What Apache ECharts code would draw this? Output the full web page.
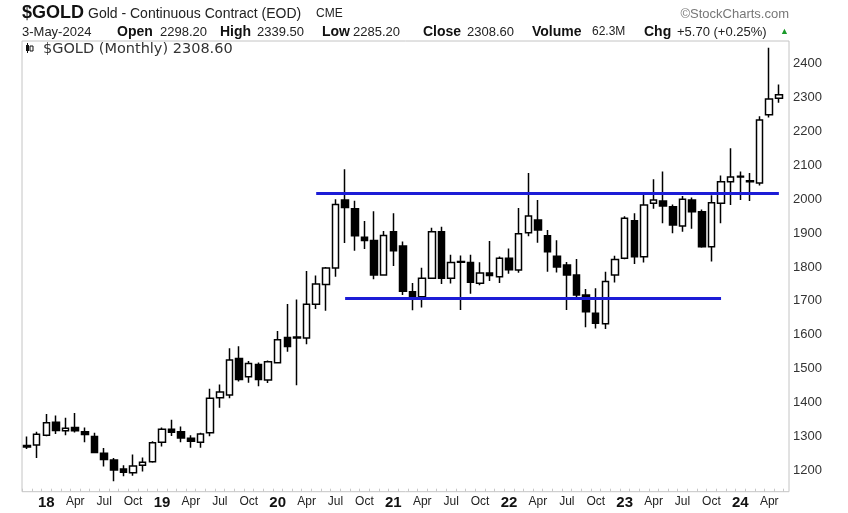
<!DOCTYPE html>
<html>
<head>
<meta charset="utf-8">
<script src="https://cdn.jsdelivr.net/npm/echarts@6/dist/echarts.min.js"></script>
<style>
html,body{margin:0;padding:0;background:#fff;}
#chart{width:848px;height:513px;}
</style>
</head>
<body>
<div id="chart"></div>
<script>
const months = ['2017-11','2017-12',
'2018-01','2018-02','2018-03','2018-04','2018-05','2018-06','2018-07','2018-08','2018-09','2018-10','2018-11','2018-12',
'2019-01','2019-02','2019-03','2019-04','2019-05','2019-06','2019-07','2019-08','2019-09','2019-10','2019-11','2019-12',
'2020-01','2020-02','2020-03','2020-04','2020-05','2020-06','2020-07','2020-08','2020-09','2020-10','2020-11','2020-12',
'2021-01','2021-02','2021-03','2021-04','2021-05','2021-06','2021-07','2021-08','2021-09','2021-10','2021-11','2021-12',
'2022-01','2022-02','2022-03','2022-04','2022-05','2022-06','2022-07','2022-08','2022-09','2022-10','2022-11','2022-12',
'2023-01','2023-02','2023-03','2023-04','2023-05','2023-06','2023-07','2023-08','2023-09','2023-10','2023-11','2023-12',
'2024-01','2024-02','2024-03','2024-04','2024-05'];

const opens = [1268,1274,
1303,1341,1316,1326,1313,1299,1250,1230,1203,1192,1214,1225,
1282,1321,1313,1294,1282,1310,1414,1422,1530,1476,1512,1466,
1517,1592,1593,1590,1690,1748,1797,1998,1972,1888,1878,1776,
1904,1862,1727,1712,1767,1904,1767,1814,1813,1752,1782,1771,
1826,1791,1901,1939,1892,1832,1806,1776,1717,1663,1632,1776,
1826,1937,1830,1988,1995,1978,1921,1998,1963,1860,1988,2052,
2066,2055,2048,2250,2298.2];
const closes = [1273,1306,
1340,1317,1324,1316,1305,1252,1231,1200,1194,1212,1223,1281,
1321,1312,1295,1285,1307,1412,1431,1525,1468,1515,1468,1520,
1585,1565,1590,1690,1750,1797,1985,1976,1892,1878,1776,1893,
1848,1728,1712,1767,1904,1767,1813,1816,1755,1782,1775,1826,
1792,1898,1951,1909,1845,1800,1776,1717,1668,1634,1757,1822,
1944,1830,1983,1998,1980,1924,2000,1963,1860,1990,2052,2066,
2068,2052,2234,2296,2308.6];
const lows = [1262,1236,
1300,1307,1303,1311,1282,1250,1211,1167,1182,1183,1196,1222,
1270,1301,1282,1266,1266,1300,1384,1412,1462,1458,1448,1457,
1517,1550,1451,1572,1676,1671,1771,1871,1848,1853,1764,1775,
1803,1717,1672,1680,1766,1750,1751,1673,1721,1746,1759,1753,
1780,1783,1891,1872,1786,1784,1673,1709,1622,1618,1617,1754,
1823,1809,1813,1972,1929,1900,1904,1913,1857,1816,1929,1983,
1998,1995,2041,2242,2285.2];
const highs = [1299,1313,
1366,1361,1355,1369,1326,1310,1265,1236,1214,1246,1237,1285,
1326,1349,1329,1303,1310,1440,1453,1560,1566,1522,1518,1524,
1611,1691,1704,1788,1775,1800,2000,2089,1996,1936,1965,1906,
1959,1875,1753,1798,1916,1919,1836,1834,1836,1814,1877,1831,
1855,1974,2078,1998,1909,1879,1815,1824,1735,1737,1786,1833,
1950,1959,2014,2059,2082,1985,2010,2005,1970,2012,2070,2151,
2082,2078,2245,2448,2339.5];

const resistance = 2018;
const resistanceFrom = '2020-05', resistanceTo = '2024-05';
const support = 1707;
const supportFrom = '2020-08', supportTo = '2023-11';

const yTickLabels = [1200,1300,1400,1500,1600,1700,1800,1900,2000,2100,2200,2300,2400];
const monthNames = {'04':'Apr','07':'Jul','10':'Oct'};

const candleData = months.map((m, i) => [opens[i], closes[i], lows[i], highs[i]]);

const chart = echarts.init(document.getElementById('chart'), null, {renderer:'canvas'});

const FONT = 'Liberation Sans, Arial, sans-serif';
function txt(x, y, text, font, fill, align) {
  return {type:'text', x:x, y:y, silent:true,
    style:{text:text, font:font, fill:fill || '#111', align:align || 'left', verticalAlign:'middle'}};
}

const option = {
  animation:false,
  backgroundColor:'#fff',
  grid:[
    {left:22.2, top:30.05, width:761.5, height:473.9, show:false},
    {left:22.2, top:41, width:761.5, height:450.7, show:false},
    {left:22, top:41, width:767, height:450.7, show:true, borderColor:'#c4c4c4', borderWidth:1, backgroundColor:'transparent'}
  ],
  xAxis:[
    {type:'category', gridIndex:0, data:months, boundaryGap:true, show:false},
    {type:'category', gridIndex:1, data:months, boundaryGap:true,
      axisLine:{show:false},
      axisTick:{show:true, inside:true, length:3, interval:0, lineStyle:{color:'#c8c8c8'}},
      axisLabel:{
        interval:function(idx, val){ const mm = val.slice(5); return mm==='01' || monthNames[mm] !== undefined; },
        margin:4,
        formatter:function(val){
          const mm = val.slice(5);
          if (mm === '01') return '{y|' + val.slice(2,4) + '}';
          return '{m|' + monthNames[mm] + '}';
        },
        rich:{
          y:{fontFamily:FONT, fontWeight:'bold', fontSize:15, color:'#111'},
          m:{fontFamily:FONT, fontSize:12, color:'#222'}
        }
      }
    },
    {type:'category', gridIndex:2, data:months, show:false}
  ],
  yAxis:[
    {type:'value', gridIndex:0, min:1100, max:2500, interval:100, position:'right', offset:5.3,
      splitLine:{show:false}, axisLine:{show:false}, axisTick:{show:false},
      axisLabel:{margin:4, fontFamily:FONT, fontSize:13, color:'#333',
        formatter:function(v){ return yTickLabels.indexOf(v) >= 0 ? String(v) : ''; }}
    },
    {type:'value', gridIndex:1, show:false, min:1100, max:2500},
    {type:'value', gridIndex:2, show:false, min:1100, max:2500}
  ],
  series:[{
    type:'candlestick',
    xAxisIndex:0, yAxisIndex:0,
    data:candleData,
    barWidth:7,
    itemStyle:{color:'#ffffff', color0:'#000000', borderColor:'#000000', borderColor0:'#000000', borderWidth:1.5},
    markLine:{
      silent:true, symbol:['none','none'], label:{show:false},
      lineStyle:{color:'#1c1cd6', width:3, type:'solid'},
      data:[
        [{coord:[resistanceFrom, resistance]}, {coord:[resistanceTo, resistance]}],
        [{coord:[supportFrom, support]}, {coord:[supportTo, support]}]
      ]
    }
  }],
  graphic:[
    txt(22, 13, '$GOLD', 'bold 18px ' + FONT, '#111'),
    txt(88, 14, 'Gold - Continuous Contract (EOD)', '14px ' + FONT, '#222'),
    txt(316, 14, 'CME', '12px ' + FONT, '#222'),
    txt(789, 14, '\u00A9StockCharts.com', '13px ' + FONT, '#777', 'right'),
    txt(22, 32, '3-May-2024', '13px ' + FONT, '#222'),
    txt(117, 32, 'Open', 'bold 14px ' + FONT, '#111'),
    txt(160, 32, '2298.20', '13px ' + FONT, '#222'),
    txt(220, 32, 'High', 'bold 14px ' + FONT, '#111'),
    txt(257, 32, '2339.50', '13px ' + FONT, '#222'),
    txt(322, 32, 'Low', 'bold 14px ' + FONT, '#111'),
    txt(353, 32, '2285.20', '13px ' + FONT, '#222'),
    txt(423, 32, 'Close', 'bold 14px ' + FONT, '#111'),
    txt(467, 32, '2308.60', '13px ' + FONT, '#222'),
    txt(532, 32, 'Volume', 'bold 14px ' + FONT, '#111'),
    txt(592, 32, '62.3M', '12px ' + FONT, '#222'),
    txt(644, 32, 'Chg', 'bold 14px ' + FONT, '#111'),
    txt(677, 32, '+5.70 (+0.25%)', '13px ' + FONT, '#222'),
    txt(780, 32, '\u25B2', '9px ' + FONT, '#1a9a2a'),
    {type:'rect', x:26, y:45, silent:true, shape:{width:3, height:6}, style:{fill:'#111'}},
    {type:'rect', x:30, y:46, silent:true, shape:{width:3, height:5}, style:{fill:'#fff', stroke:'#111', lineWidth:1}},
    {type:'line', x:0, y:0, silent:true, shape:{x1:27.5, y1:43, x2:27.5, y2:53}, style:{stroke:'#111', lineWidth:1}},
    txt(43, 49, '$GOLD (Monthly) 2308.60', '14.5px DejaVu Sans, sans-serif', '#333')
  ]
};
chart.setOption(option);
</script>
</body>
</html>
